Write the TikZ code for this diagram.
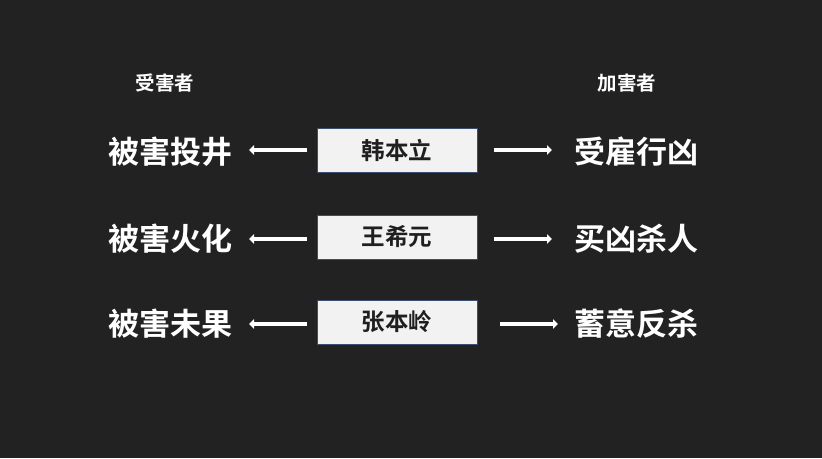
\documentclass[tikz,border=0pt]{standalone}
\usepackage{fontspec}
\newfontfamily\cjk{Noto Sans CJK SC}[BoldFont={Noto Sans CJK SC Bold}]
\usetikzlibrary{arrows.meta}
\definecolor{bg}{HTML}{222222}
\definecolor{boxfill}{HTML}{F2F2F2}
\definecolor{boxline}{HTML}{3A4E70}
\tikzset{
  namebox/.style={draw=boxline, line width=0.9pt, fill=boxfill, minimum width=160pt, minimum height=44pt, inner sep=0pt, font=\cjk\bfseries\fontsize{23.5}{23.5}\selectfont, text=black!88},
  bigtext/.style={text=white, font=\cjk\bfseries\fontsize{31}{31}\selectfont, inner sep=0pt},
  headtext/.style={text=white, font=\cjk\bfseries\fontsize{19.5}{19.5}\selectfont, inner sep=0pt},
  wa/.style={draw=white, line width=3.8pt, -{Triangle[width=9.5pt,length=5pt]}}
}
\begin{document}
\begin{tikzpicture}[x=1pt,y=-1pt]
\fill[bg] (0,0) rectangle (822,458);
\useasboundingbox (0,0) rectangle (822,458);
\node[headtext] (h1) at (165,83) {受害者};
\node[headtext] (h2) at (627,83) {加害者};
\node[namebox] (b1) at (397,150) {韩本立};
\node[namebox] (b2) at (397,237) {王希元};
\node[namebox] (b3) at (397,322) {张本岭};
\node[bigtext] (l1) at (170,152) {被害投井};
\node[bigtext] (l2) at (170,239) {被害火化};
\node[bigtext] (l3) at (170,324) {被害未果};
\node[bigtext] (r1) at (636,152) {受雇行凶};
\node[bigtext] (r2) at (636,239) {买凶杀人};
\node[bigtext] (r3) at (636,324) {蓄意反杀};
\coordinate (la1) at (307,150); \coordinate (lb1) at (249,150);
\coordinate (la2) at (307,239); \coordinate (lb2) at (249,239);
\coordinate (la3) at (307,324); \coordinate (lb3) at (249,324);
\coordinate (ra1) at (494,150); \coordinate (rb1) at (552,150);
\coordinate (ra2) at (494,239); \coordinate (rb2) at (552,239);
\coordinate (ra3) at (500,324); \coordinate (rb3) at (558,324);
\draw[wa] (la1) -- (lb1);
\draw[wa] (la2) -- (lb2);
\draw[wa] (la3) -- (lb3);
\draw[wa] (ra1) -- (rb1);
\draw[wa] (ra2) -- (rb2);
\draw[wa] (ra3) -- (rb3);
\end{tikzpicture}
\end{document}
